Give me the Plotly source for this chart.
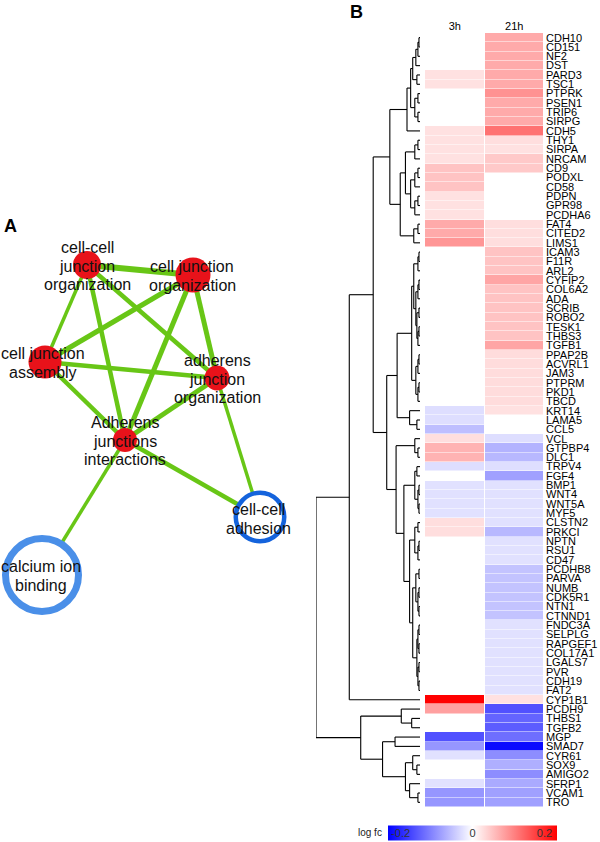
import plotly.graph_objects as go

# ---- heatmap data (log fold change) ----
genes = ['CDH10', 'CD151', 'NF2', 'DST', 'PARD3', 'TSC1', 'PTPRK', 'PSEN1', 'TRIP6', 'SIRPG',
         'CDH5', 'THY1', 'SIRPA', 'NRCAM', 'CD9', 'PODXL', 'CD58', 'PDPN', 'GPR98', 'PCDHA6',
         'FAT4', 'CITED2', 'LIMS1', 'ICAM3', 'F11R', 'ARL2', 'CYFIP2', 'COL6A2', 'ADA', 'SCRIB',
         'ROBO2', 'TESK1', 'THBS3', 'TGFB1', 'PPAP2B', 'ACVRL1', 'JAM3', 'PTPRM', 'PKD1', 'TBCD',
         'KRT14', 'LAMA5', 'CCL5', 'VCL', 'GTPBP4', 'DLC1', 'TRPV4', 'FGF4', 'BMP1', 'WNT4',
         'WNT5A', 'MYF5', 'CLSTN2', 'PRKCI', 'NPTN', 'RSU1', 'CD47', 'PCDHB8', 'PARVA', 'NUMB',
         'CDK5R1', 'NTN1', 'CTNND1', 'FNDC3A', 'SELPLG', 'RAPGEF1', 'COL17A1', 'LGALS7', 'PVR', 'CDH19',
         'FAT2', 'CYP1B1', 'PCDH9', 'THBS1', 'TGFB2', 'MGP', 'SMAD7', 'CYR61', 'SOX9', 'AMIGO2',
         'SFRP1', 'VCAM1', 'TRO']

fc_3h = [0, 0, 0, 0, 0.028, 0.028, 0, 0, 0, 0,
         0.028, 0.028, 0.028, 0.028, 0.055, 0.055, 0.055, 0.028, 0.028, 0.028,
         0.078, 0.078, 0.097, 0, 0, 0, 0, 0, 0, 0,
         0, 0, 0, 0, 0, 0, 0, 0, 0, 0,
         -0.03, -0.03, -0.06, 0.03, 0.07, 0.07, -0.03, 0, -0.028, -0.028,
         -0.028, -0.028, 0.03, 0.03, 0, 0, 0, 0, 0, 0,
         0, 0, 0, 0, 0, 0, 0, 0, 0, 0,
         0, 0.235, 0.088, 0, 0, -0.16, -0.097, -0.028, 0, 0,
         -0.028, -0.097, -0.097]

fc_21h = [0.078, 0.078, 0.078, 0.078, 0.078, 0.078, 0.1, 0.078, 0.078, 0.078,
          0.13, 0.03, 0.028, 0.05, 0.05, 0, 0, 0, 0, 0,
          0.03, 0.03, 0.03, 0.055, 0.055, 0.055, 0.083, 0.055, 0.055, 0.055,
          0.055, 0.055, 0.055, 0.083, 0.032, 0.032, 0.032, 0.032, 0.032, 0.032,
          0.028, 0, 0, -0.03, -0.07, -0.065, -0.03, -0.088, -0.028, -0.028,
          -0.028, -0.028, -0.028, -0.065, -0.028, -0.028, -0.028, -0.055, -0.055, -0.055,
          -0.055, -0.055, -0.055, -0.028, -0.028, -0.028, -0.028, -0.028, -0.028, -0.028,
          -0.028, 0.028, -0.16, -0.143, -0.15, -0.134, -0.226, -0.105, -0.074, -0.105,
          -0.078, -0.088, -0.088]

time_labels = ['3h', '21h']
scale_ticks = [-0.2, 0, 0.2]

# ---- dendrogram (node heights, root = 1) ----
E1 = '((((CDH10,CD151)0.01,NF2)0.02,DST)0.04,(PARD3,TSC1)0.03)0.07'
E2 = '((PTPRK,PSEN1)0.02,(TRIP6,SIRPG)0.02)0.05'
D = '((' + E1 + ',' + E2 + ')0.09,CDH5)0.125'
G1 = '((THY1,SIRPA)0.02,NRCAM)0.05'
G2 = '((CD9,PODXL)0.02,CD58)0.05'
G3 = '((PDPN,GPR98)0.02,PCDHA6)0.05'
G = '(' + G1 + ',(' + G2 + ',' + G3 + ')0.09)0.14'
H = '((FAT4,CITED2)0.02,LIMS1)0.06'
C = '(' + D + ',(' + G + ',' + H + ')0.19)0.29'
K1 = ('(((ICAM3,F11R)0.01,ARL2)0.02,(((CYFIP2,COL6A2)0.01,ADA)0.02,'
      '((SCRIB,ROBO2)0.01,((TESK1,THBS3)0.01,TGFB1)0.02)0.03)0.04)0.06')
K2 = '(((PPAP2B,ACVRL1)0.01,JAM3)0.02,((PTPRM,PKD1)0.01,TBCD)0.02)0.04'
L = '(KRT14,(LAMA5,CCL5)0.03)0.1'
J = '((' + K1 + ',' + K2 + ')0.08,' + L + ')0.22'
M1 = '(VCL,(GTPBP4,DLC1)0.02)0.05'
M2a = '((TRPV4,FGF4)0.03,((BMP1,WNT4)0.01,(WNT5A,MYF5)0.01)0.02)0.05'
M2b1 = '((CLSTN2,PRKCI)0.02,((NPTN,RSU1)0.01,CD47)0.02)0.05'
M2b2 = ('(((PCDHB8,PARVA)0.01,((NUMB,CDK5R1)0.01,(NTN1,CTNND1)0.01)0.02)0.04,'
        '(((FNDC3A,SELPLG)0.01,(RAPGEF1,COL17A1)0.01)0.02,((LGALS7,PVR)0.01,(CDH19,FAT2)0.01)0.02)0.03)0.07')
M = '(' + M1 + ',(' + M2a + ',(' + M2b1 + ',' + M2b2 + ')0.1)0.155)0.23'
A = '((' + C + ',(' + J + ',' + M + ')0.32)0.45,CYP1B1)0.68'
N1 = '(PCDH9,(THBS1,TGFB2)0.08)0.18'
N2 = '((MGP,SMAD7)0.24,((CYR61,(SOX9,AMIGO2)0.03)0.07,(SFRP1,(VCAM1,TRO)0.02)0.1)0.14)0.36'
tree_text = '(' + A + ',(' + N1 + ',' + N2 + ')0.57)1.0'

# ---- network (panel A) ----
net_names = [['cell-cell', 'junction', 'organization'], ['cell junction', 'organization'],
             ['cell junction', 'assembly'], ['adherens', 'junction', 'organization'],
             ['Adherens', 'junctions', 'interactions'], ['cell-cell', 'adhesion'],
             ['calcium ion', 'binding']]
node_x = [87, 193, 45, 217, 125, 260, 42]
node_y = [265, 275, 362, 378, 440, 517, 575]
node_size = [28, 35, 33, 25, 24, 53, 80]
node_ring = [0, 0, 0, 0, 0, 4.5, 7]
node_color = ['#e8121a'] * 5 + ['#1463dc', '#4a8fe8']
label_x = [87, 192, 43, 217, 125, 258, 41]
label_y = [266, 276, 363, 379, 441, 519, 576]
edges = [(0, 1), (0, 2), (0, 4), (0, 3), (1, 2), (1, 4), (1, 3), (2, 3), (2, 4),
         (3, 4), (3, 5), (4, 5), (4, 6)]
edge_width = [6, 3.5, 4.5, 4.5, 5, 5, 5, 4.5, 4.5, 5, 3.5, 4.5, 3.5]

FONT = 'Liberation Sans, Arial, sans-serif'
W, HGT = 600, 842
LINE_STEP = 18.7


def parse_tree(s):
    pos = 0

    def node():
        nonlocal pos
        if s[pos] == '(':
            pos += 1
            kids = [node()]
            while s[pos] == ',':
                pos += 1
                kids.append(node())
            pos += 1
            start = pos
            while pos < len(s) and (s[pos].isdigit() or s[pos] == '.'):
                pos += 1
            return (float(s[start:pos]), kids)
        start = pos
        while s[pos] not in ',()':
            pos += 1
        return s[start:pos]

    return node()


dx, dy = [], []


def walk(n):
    if isinstance(n, str):
        return 0.0, genes.index(n)
    h, kids = n
    pts = [walk(k) for k in kids]
    ys = [p[1] for p in pts]
    for ch, cy in pts:
        dx.extend([ch, h, None])
        dy.extend([cy, cy, None])
    dx.extend([h, h, None])
    dy.extend([min(ys), max(ys), None])
    return h, (min(ys) + max(ys)) / 2


walk(parse_tree(tree_text))

fig = go.Figure()

# heatmap
fig.add_trace(go.Heatmap(
    z=[[a, b] for a, b in zip(fc_3h, fc_21h)],
    x=[0, 1], y=list(range(len(genes))),
    colorscale=[[0, 'rgb(0,0,255)'], [0.5, 'rgb(255,255,255)'], [1, 'rgb(255,0,0)']],
    zmin=-0.235, zmax=0.235, xgap=1, ygap=0.5,
    hoverinfo='skip',
    colorbar=dict(
        orientation='h', x=472.5 / W, xanchor='center',
        y=(HGT - 832.5) / HGT, yanchor='middle',
        len=169 / W, lenmode='fraction', thickness=15,
        tickvals=scale_ticks, ticktext=['-0.2', '0', '0.2'],
        ticklabelposition='inside', ticks='', outlinewidth=0,
        tickfont=dict(family=FONT, size=11, color='#333'),
        xpad=0, ypad=0,
    ),
    xaxis='x', yaxis='y',
))

# dendrogram
fig.add_trace(go.Scatter(
    x=dx, y=dy, mode='lines', line=dict(color='black', width=1.1),
    hoverinfo='skip', xaxis='x2', yaxis='y2', showlegend=False,
))

# network edges
for (a, b), w in zip(edges, edge_width):
    fig.add_trace(go.Scatter(
        x=[node_x[a], node_x[b]], y=[node_y[a], node_y[b]], mode='lines',
        line=dict(color='rgb(104,198,22)', width=w), hoverinfo='skip',
        xaxis='x3', yaxis='y3', showlegend=False,
    ))

# network nodes
for i in range(len(net_names)):
    ring = node_ring[i]
    fig.add_trace(go.Scatter(
        x=[node_x[i]], y=[node_y[i]], mode='markers',
        marker=dict(
            size=node_size[i] - ring,
            color='white' if ring else node_color[i],
            line=dict(color=node_color[i], width=ring),
        ),
        hoverinfo='skip', xaxis='x3', yaxis='y3', showlegend=False,
    ))

# node labels, one annotation per line to get the tight line spacing
annotations = []
for i, lines in enumerate(net_names):
    n = len(lines)
    for k, line in enumerate(lines):
        annotations.append(dict(
            x=label_x[i], y=label_y[i] + (k - (n - 1) / 2) * LINE_STEP,
            xref='x3', yref='y3', text=line, showarrow=False,
            font=dict(family=FONT, size=16, color='#111'),
            xanchor='center', yanchor='middle',
        ))

annotations += [
    dict(x=10 / W, y=1 - 226 / HGT, xref='paper', yref='paper', text='<b>A</b>',
         xanchor='center', yanchor='middle', showarrow=False,
         font=dict(family=FONT, size=18, color='black')),
    dict(x=356 / W, y=1 - 12 / HGT, xref='paper', yref='paper', text='<b>B</b>',
         xanchor='center', yanchor='middle', showarrow=False,
         font=dict(family=FONT, size=18, color='black')),
    dict(x=384 / W, y=1 - 832 / HGT, xref='paper', yref='paper', text='log fc',
         xanchor='right', yanchor='middle', showarrow=False,
         font=dict(family=FONT, size=10, color='#222')),
]

ydom = [(HGT - 807) / HGT, (HGT - 33) / HGT]
nrow = len(genes)

fig.update_layout(
    width=W, height=HGT,
    margin=dict(l=0, r=0, t=0, b=0),
    paper_bgcolor='white', plot_bgcolor='rgba(0,0,0,0)',
    showlegend=False,
    font=dict(family=FONT),
    xaxis=dict(domain=[425 / W, 544 / W], range=[-0.5, 1.5], side='top',
               tickvals=[0, 1], ticktext=time_labels, ticks='', showgrid=False,
               zeroline=False, showline=False, anchor='y', automargin=False,
               tickfont=dict(size=11, color='black')),
    yaxis=dict(domain=ydom, range=[nrow - 0.5, -0.5], side='right',
               tickvals=list(range(nrow)), ticktext=genes, ticks='', showgrid=False,
               zeroline=False, showline=False, anchor='x', automargin=False,
               ticklabelstandoff=1,
               tickfont=dict(size=11, color='black')),
    xaxis2=dict(domain=[316 / W, 420 / W], range=[1.0, 0], visible=False, anchor='y2'),
    yaxis2=dict(domain=ydom, range=[nrow - 0.5, -0.5], visible=False, anchor='x2'),
    xaxis3=dict(domain=[0, 1], range=[0, W], visible=False, anchor='y3'),
    yaxis3=dict(domain=[0, 1], range=[HGT, 0], visible=False, anchor='x3'),
    annotations=annotations,
)

# page body has a default 8px margin; remove it so the figure fills the window
fig.write_html('out.html', config={'displayModeBar': False},
               post_script="document.body.style.margin='0';")
